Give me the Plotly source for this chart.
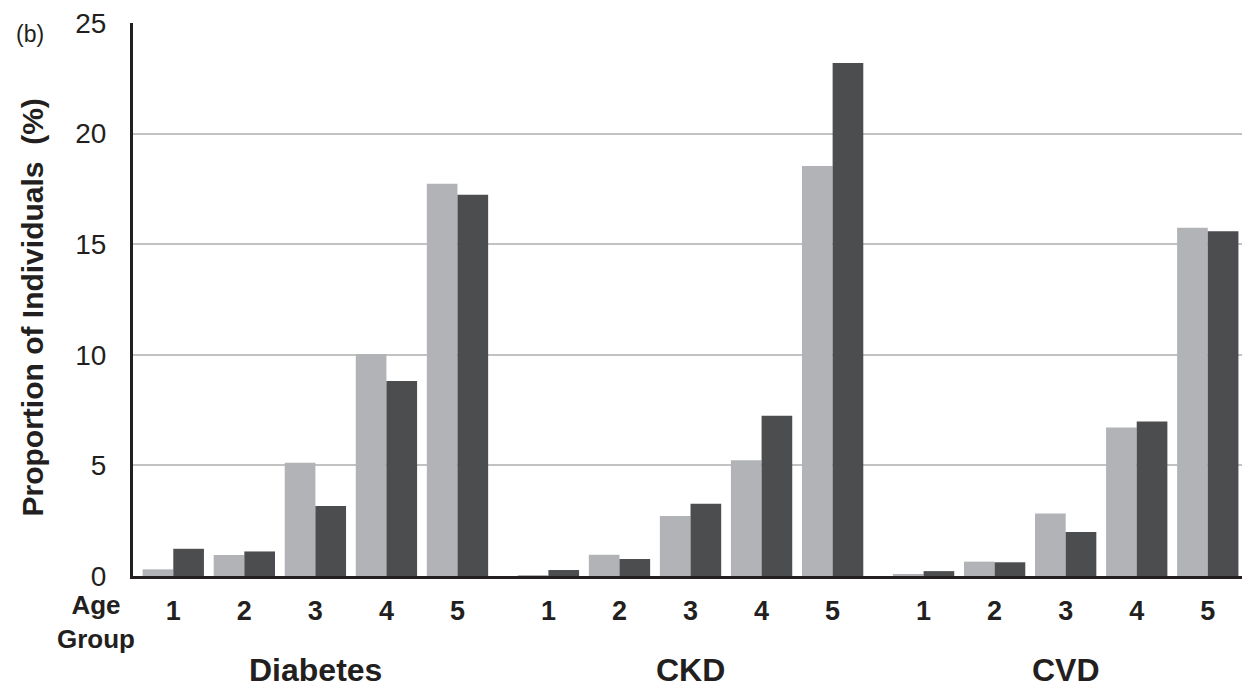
import plotly.graph_objects as go

# ---- data ----
diseases = ["Diabetes", "CKD", "CVD"]
age_groups = ["1", "2", "3", "4", "5"]

diabetes_light = [0.30, 0.95, 5.12, 10.04, 17.73]
diabetes_dark = [1.23, 1.11, 3.17, 8.81, 17.23]
ckd_light = [0.02, 0.96, 2.71, 5.23, 18.54]
ckd_dark = [0.27, 0.77, 3.27, 7.24, 23.19]
cvd_light = [0.07, 0.65, 2.82, 6.71, 15.74]
cvd_dark = [0.22, 0.62, 1.99, 6.98, 15.59]

y_ticks = [0, 5, 10, 15, 20, 25]

# ---- layout helpers ----
DISEASE_STEP = 5.28  # spacing between disease blocks in axis units
light_vals = diabetes_light + ckd_light + cvd_light
dark_vals = diabetes_dark + ckd_dark + cvd_dark
xpos = [d * DISEASE_STEP + g for d in range(len(diseases)) for g in range(len(age_groups))]
xlabels = [a for _ in diseases for a in age_groups]

LIGHT = "#b2b3b6"
DARK = "#4c4d4f"
TXT = "#231f20"
FONT = "Liberation Sans, Arial, Helvetica, sans-serif"

fig = go.Figure()
fig.add_trace(go.Bar(x=xpos, y=light_vals, marker=dict(color=LIGHT, line=dict(width=0)),
                     name="Series 1", showlegend=False))
fig.add_trace(go.Bar(x=xpos, y=dark_vals, marker=dict(color=DARK, line=dict(width=0)),
                     name="Series 2", showlegend=False))

x_lo = -0.567
x_hi = x_lo + (1242 - 133) / 71.05

fig.update_layout(
    width=1242, height=689,
    margin=dict(l=133, r=0, t=23, b=113),
    paper_bgcolor="white", plot_bgcolor="white",
    barmode="group", bargap=0.137, bargroupgap=0,
    font=dict(family=FONT, color=TXT),
    xaxis=dict(
        range=[x_lo, x_hi], tickvals=xpos, ticktext=xlabels,
        tickfont=dict(size=27, family=FONT, color=TXT, weight="bold"),
        showline=True, linecolor=TXT, linewidth=3, ticks="", showgrid=False,
        zeroline=False, ticklabelstandoff=9,
    ),
    yaxis=dict(
        range=[0, 25], tickvals=y_ticks, ticktext=[str(v) for v in y_ticks],
        tickfont=dict(size=28, family=FONT, color=TXT),
        showline=True, linecolor=TXT, linewidth=3, ticks="",
        showgrid=True, gridcolor="#c2c2c2", gridwidth=1.5,
        zeroline=False, ticklabelstandoff=18,
    ),
)

annotations = [
    dict(text="(b)", xref="paper", yref="paper", x=0, y=1, xshift=-103, yshift=-11,
         xanchor="center", yanchor="middle", showarrow=False,
         font=dict(size=23, family=FONT, color=TXT)),
    dict(text="Proportion of Individuals\u00a0\u00a0(%)", xref="paper", yref="paper",
         x=0, y=0.5, xshift=-101, yshift=-8, textangle=-90,
         xanchor="center", yanchor="middle", showarrow=False,
         font=dict(size=30, family=FONT, color=TXT, weight="bold")),
    dict(text="Age<br>Group", xref="paper", yref="paper", x=0, y=0, xshift=-37, yshift=-46,
         xanchor="center", yanchor="middle", showarrow=False, align="center",
         font=dict(size=26, family=FONT, color=TXT, weight="bold")),
]
for d, name in enumerate(diseases):
    annotations.append(dict(
        text=name, xref="x", yref="paper", x=d * DISEASE_STEP + 2, y=0, yshift=-94,
        xanchor="center", yanchor="middle", showarrow=False,
        font=dict(size=32, family=FONT, color=TXT, weight="bold")))
fig.update_layout(annotations=annotations)

fig.write_html(
    "out.html",
    config={"displayModeBar": False},
    post_script="document.body.style.margin='0';document.body.style.padding='0';",
)
